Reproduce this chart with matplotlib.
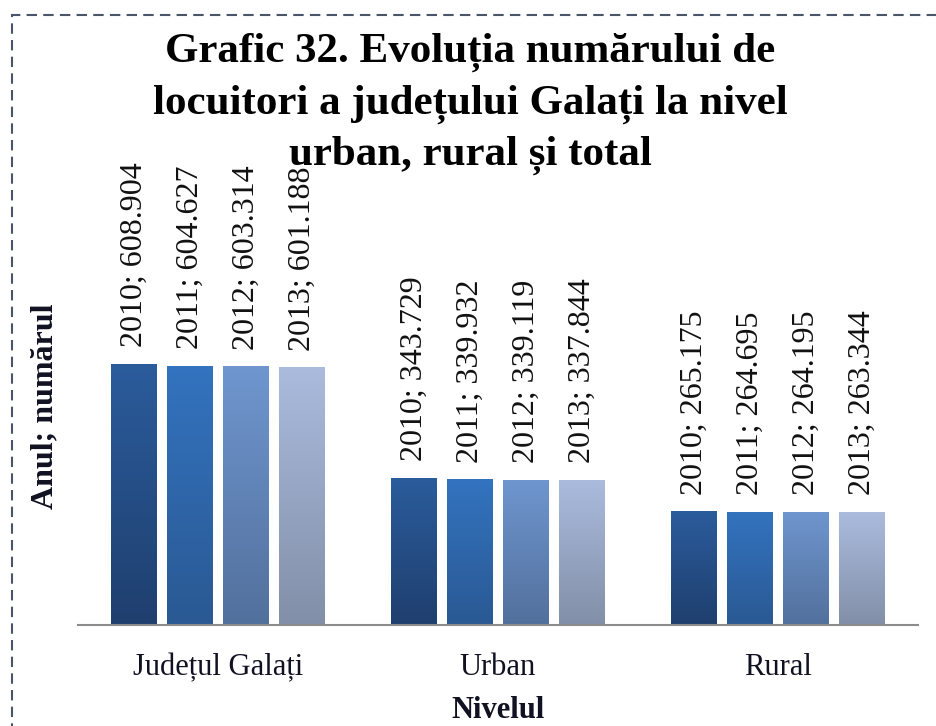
import numpy as np
import matplotlib.pyplot as plt
from matplotlib.patches import Rectangle
from matplotlib.colors import LinearSegmentedColormap

categories = ['Județul Galați', 'Urban', 'Rural']
years = ['2010', '2011', '2012', '2013']
values = {
    '2010': [608.904, 343.729, 265.175],
    '2011': [604.627, 339.932, 264.695],
    '2012': [603.314, 339.119, 264.195],
    '2013': [601.188, 337.844, 263.344],
}

# top / bottom colours of each gradient bar
grad_colors = [('#2B5C9C', '#1F3F6E'),
               ('#3373BF', '#2A5993'),
               ('#6F96CF', '#52709C'),
               ('#AABBDD', '#828FA8')]

plt.rcParams['font.family'] = ['Liberation Serif', 'DejaVu Serif']

fig = plt.figure(figsize=(9.37, 7.26), dpi=100)
W, H = 937, 726
ax = fig.add_axes([78 / W, 101 / H, 840 / W, 475 / H])

x = np.arange(len(categories))
width = 0.164
offsets = [-0.3, -0.1, 0.1, 0.3]

for i, yr in enumerate(years):
    bars = ax.bar(x + offsets[i], values[yr], width, color='none', edgecolor='none', zorder=2)
    cmap = LinearSegmentedColormap.from_list('g%d' % i, [grad_colors[i][1], grad_colors[i][0]])
    for b, v in zip(bars, values[yr]):
        x0 = b.get_x()
        grad = np.linspace(0, 1, 256).reshape(-1, 1)
        im = ax.imshow(grad, cmap=cmap, origin='lower', aspect='auto',
                       extent=[x0, x0 + b.get_width(), 0, v], zorder=2)
        im.set_clip_path(b)
        ax.annotate(f'{yr}; {v:.3f}', (b.get_x() + b.get_width() / 2, v),
                    xytext=(0, 12), textcoords='offset points',
                    rotation=90, ha='center', va='bottom', fontsize=23, color='#111111')

ax.set_xlim(-0.5, 2.5)
ax.set_ylim(0, 1108)
ax.set_yticks([])
ax.set_xticks(x)
ax.set_xticklabels(categories, fontsize=22, color='#111122')
ax.tick_params(axis='x', length=0, pad=20)
for s in ['top', 'right', 'left']:
    ax.spines[s].set_visible(False)
ax.spines['bottom'].set_color('#8C8C8C')
ax.spines['bottom'].set_linewidth(1.5)

fig.text(470 / W, 1 - 33 / H,
         'Grafic 32. Evoluția numărului de\nlocuitori a județului Galați la nivel\nurban, rural și total',
         ha='center', va='top', fontsize=31, fontweight='bold', linespacing=1.42)
fig.text(45 / W, 1 - 406 / H, 'Anul; numărul', rotation=90, ha='center', va='center',
         fontsize=23, fontweight='bold', color='#111122')
fig.text(498 / W, 1 - 711 / H, 'Nivelul', ha='center', va='center',
         fontsize=22, fontweight='bold', color='#111122')

# dashed frame around the figure
fig.patches.append(Rectangle((12 / W, -0.05), 1.05, 1 - 15 / H + 0.05, transform=fig.transFigure,
                             fill=False, edgecolor='#4A5568', linewidth=1.5,
                             linestyle=(0, (5, 3)), zorder=0))

fig.savefig('out.png', dpi=100)
